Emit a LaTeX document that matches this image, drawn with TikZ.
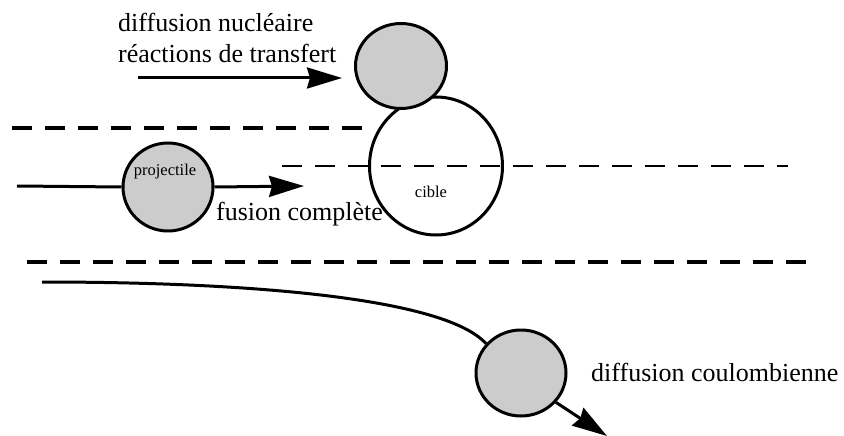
\documentclass[tikz,border=0pt]{standalone}
\usepackage{fontspec}
\setmainfont{Liberation Serif}
\usetikzlibrary{arrows.meta, shapes.geometric, positioning}
\definecolor{ballgrey}{HTML}{CCCCCC}
\tikzset{
  % Trajectory arrow style
  traj/.style={
    line width = 3pt
  },
  % big arrow head
  bighead/.style={
    -{Stealth[length=35pt, width=21pt, inset=3pt]}
  },
}
\tikzset{
  %nucleus node style
  nucleus/.style={
    draw
    , ellipse
    , fill=ballgrey
    , line width=3pt
    , inner sep=0pt
    , minimum width=90pt
    , minimum height=86pt
  },
  %target node style
  target/.style={
    draw
    , ellipse
    , line width=3pt
    , inner sep=0pt
    , minimum width=133pt
    , minimum height=138pt
  },
  % separation lines
  sepline/.style={
    line width=3.4pt
    , dash pattern=on 20pt off 13pt
  },
  bigtext/.style={
    font=\fontsize{26}{31}\selectfont
    , inner sep=0pt
  },
  smalltext/.style={
    font=\fontsize{16.5}{19}\selectfont
    , inner sep=0pt
  },
}

\begin{document}
\begin{tikzpicture}[x=1pt, y=-1pt]
        \useasboundingbox (0,0) rectangle (844,436);
        % separation lines
        \draw[sepline] (12,128) -- (365,128);
        \draw[sepline, line width=2.7pt] (282,166) -- (788,166);
        \draw[sepline] (27,262) -- (808,262);

        \node[target] (cible) at (436,166) {};
        \node[nucleus, minimum width=91pt, minimum height=85pt] (topball) at (401,66) {};
        \node[nucleus, minimum height=88pt] (proj) at (168,187) {};
        \node[nucleus] (lowball) at (521,373) {};

        \node[smalltext, anchor=base] (projtext) at (165,175) {projectile};
        \node[smalltext, anchor=base] (cibletext) at (431,197) {cible};

        % base of a two-line node is its last line
        \node[bigtext, anchor=base west, align=left] (nuctext) at (118,63)
          {diffusion nucléaire\\réactions de transfert};
        \node[bigtext, anchor=base west] (fustext) at (216,220) {fusion complète};
        \node[bigtext, anchor=base west] (coultext) at (591,381) {diffusion coulombienne};

        \coordinate (nucstart) at (138,78);
        \coordinate (nucend) at (342,78);
        \coordinate (projstart) at (17,186);
        \coordinate (projend) at (304,186);
        \coordinate (coulstart) at (42,282);
        \coordinate (coulend) at (607,436);

        \draw[bighead, traj]
          (nucstart)
          to
          (nucend);
        \draw[traj]
          (projstart)
          to
          (proj.west);
        \draw[bighead, traj]
          (proj.east)
          to
          (projend);
        \draw[traj]
          (coulstart)
          .. controls (250,282) and (445,298) ..
          (lowball.140);
        \draw[bighead, traj]
          (lowball.-40)
          to
          (coulend);
      \end{tikzpicture}
\end{document}
